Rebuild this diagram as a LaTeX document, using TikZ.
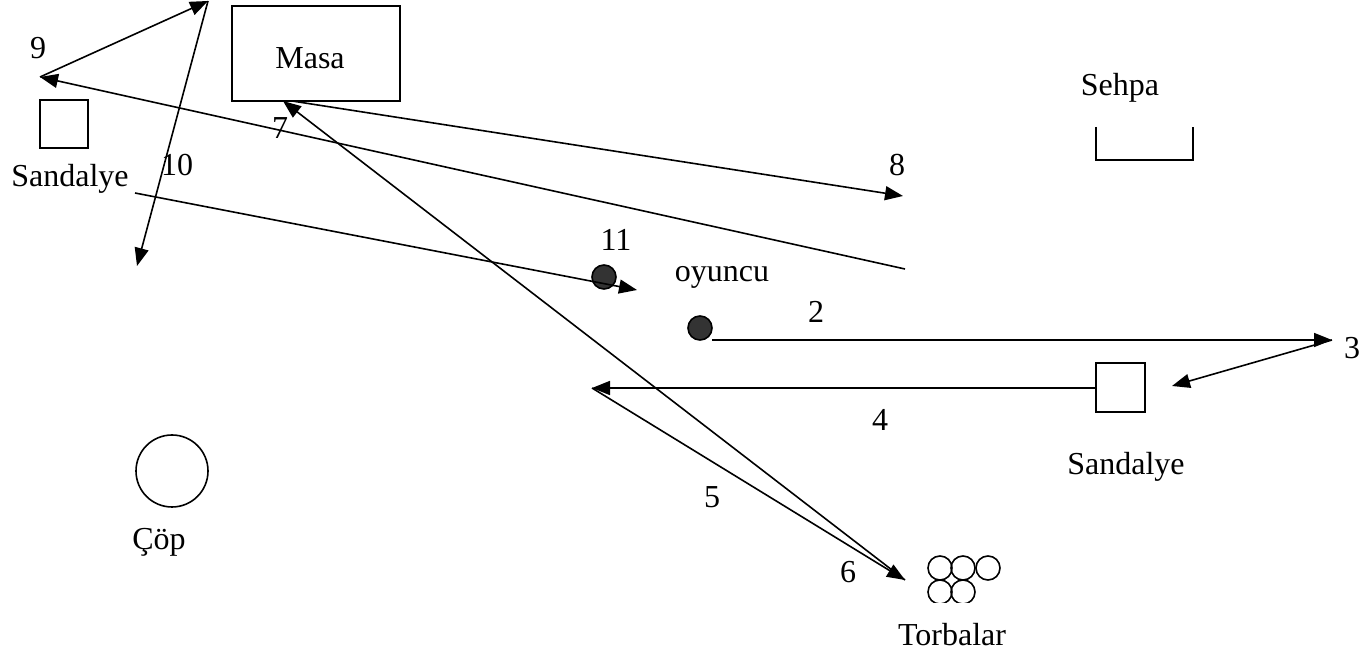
\documentclass[tikz,border=0pt]{standalone}
\usepackage{fontspec}
\setmainfont{Liberation Serif}
\usetikzlibrary{arrows.meta,calc,positioning}

\tikzset{
  yol/.style={line width=0.8pt,-{Triangle[length=9pt,width=7pt]}},
  cizgi/.style={line width=0.8pt},
  etiket/.style={font=\fontsize{16}{19}\selectfont,inner sep=0pt},
  oyuncu/.style={circle,draw,line width=0.8pt,fill=black!80,minimum size=12pt,inner sep=0pt},
}

\begin{document}
\begin{tikzpicture}[x=0.5pt,y=-0.5pt]
  \useasboundingbox (0,0) rectangle (1364,656);

  % Masa
  \draw[cizgi] (232,6) rectangle (400,101);
  \node[etiket] (masa) at (310,58) {Masa};

  % Sandalyeler
  \draw[cizgi] (40,100) rectangle (88,148);
  \node[etiket] (sandalyeA) at (70,179) {Sandalye};
  \draw[cizgi] (1096,363) rectangle (1145,412);
  \node[etiket] (sandalyeB) at (1126,467) {Sandalye};

  % Sehpa
  \draw[cizgi] (1096,127) -- (1096,160) -- (1193,160) -- (1193,127);
  \node[etiket] (sehpa) at (1120,88) {Sehpa};

  % Çöp
  \draw[cizgi] (172,471) circle (36);
  \node[etiket] (cop) at (159,542) {Çöp};

  % Torbalar
  \foreach \x in {940,963,988}
    \draw[cizgi] (\x,568) circle (12);
  \begin{scope}
    \clip (920,580) rectangle (1000,603);
    \foreach \x in {940,963}
      \draw[cizgi] (\x,592) circle (12);
  \end{scope}
  \node[etiket] (torbalar) at (952,635) {Torbalar};

  % oyuncu
  \node[oyuncu] (o1) at (604,277) {};
  \node[oyuncu] (o2) at (700,328) {};
  \node[etiket] (oyuncu) at (722,277) {oyuncu};

  % yol noktalari
  \coordinate (p2) at (712,340);
  \coordinate (p3) at (1332,340);
  \coordinate (p3b) at (1172,386);
  \coordinate (p4a) at (1096,388);
  \coordinate (p4) at (592,388);
  \coordinate (p6) at (905,580);
  \coordinate (p7) at (283,101);
  \coordinate (p8a) at (292,101);
  \coordinate (p8) at (903,196);
  \coordinate (p9a) at (905,269);
  \coordinate (p9) at (40,77);
  \coordinate (p10a) at (208,1);
  \coordinate (p10) at (137,266);
  \coordinate (p11a) at (135,193);
  \coordinate (p11) at (637,290);

  % Hareketler
  \draw[yol] (p2) -- (p3);
  \draw[yol] (p3) -- (p3b);
  \draw[yol] (p4a) -- (p4);
  \draw[yol] (p4) -- (p6);
  \draw[yol] (p6) -- (p7);
  \draw[yol] (p8a) -- (p8);
  \draw[yol] (p9a) -- (p9);
  \draw[yol] (p9) -- (p10a);
  \draw[yol] (p10a) -- (p10);
  \draw[yol] (p11a) -- (p11);

  % Numaralar
  \node[etiket] (n2) at (816,312) {2};
  \node[etiket] (n3) at (1352,348) {3};
  \node[etiket] (n4) at (880,420) {4};
  \node[etiket] (n5) at (712,497) {5};
  \node[etiket] (n6) at (848,572) {6};
  \node[etiket] (n7) at (280,128) {7};
  \node[etiket] (n8) at (897,165) {8};
  \node[etiket] (n9) at (38,48) {9};
  \node[etiket] (n10) at (177,165) {10};
  \node[etiket] (n11) at (616,240) {11};
\end{tikzpicture}
\end{document}
